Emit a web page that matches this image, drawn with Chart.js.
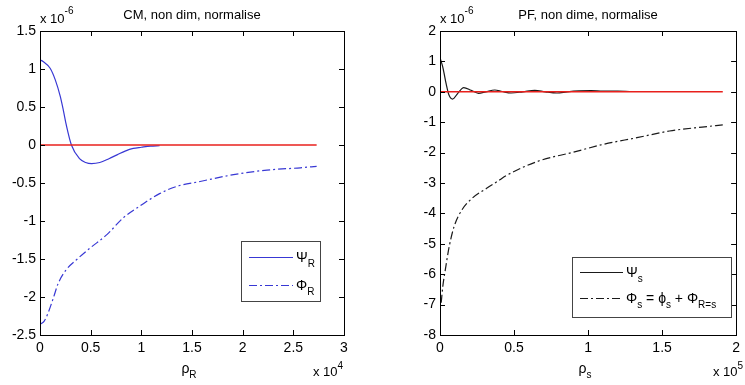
<!DOCTYPE html>
<html>
<head>
<meta charset="utf-8">
<script src="https://cdn.jsdelivr.net/npm/chart.js@4"></script>
<style>
  html, body { margin: 0; padding: 0; background: #fff; }
  #wrap { position: relative; width: 745px; height: 385px; overflow: hidden; }
  .pane { position: absolute; top: 0; height: 385px; }
  #pane-cm { left: 0; width: 372px; }
  #pane-pf { left: 400px; width: 345px; }
</style>
</head>
<body>
<div id="wrap">
  <div class="pane" id="pane-cm"><canvas id="chart-cm"></canvas></div>
  <div class="pane" id="pane-pf"><canvas id="chart-pf"></canvas></div>
</div>
<script>
// CM panel: x in units of 1e4, y in units of 1e-6
const cmPsiX = [0, 0.03, 0.1, 0.15, 0.2, 0.23, 0.26, 0.31, 0.39, 0.45, 0.51, 0.59, 0.68, 0.76, 0.84, 0.92, 1.0, 1.09, 1.18];
const cmPsiY = [1.12, 1.1, 1.01, 0.86, 0.64, 0.46, 0.26, 0.0, -0.18, -0.23, -0.245, -0.23, -0.18, -0.13, -0.08, -0.045, -0.03, -0.015, -0.01];
const cmPhiX = [0, 0.04, 0.08, 0.13, 0.18, 0.26, 0.36, 0.49, 0.66, 0.82, 1.0, 1.18, 1.36, 1.58, 1.91, 2.24, 2.57, 2.73];
const cmPhiY = [-2.36, -2.32, -2.21, -2.02, -1.82, -1.64, -1.51, -1.36, -1.18, -0.96, -0.79, -0.64, -0.54, -0.48, -0.39, -0.33, -0.30, -0.28];
const cmZeroX = [0, 2.73];
const cmZeroY = [0, 0];
const cmXTicks = [0, 0.5, 1, 1.5, 2, 2.5, 3];
const cmYTicks = [-2.5, -2, -1.5, -1, -0.5, 0, 0.5, 1, 1.5];

// PF panel: x in units of 1e5, y in units of 1e-6
const pfPsiX = [0, 0.02, 0.042, 0.06, 0.085, 0.12, 0.16, 0.21, 0.26, 0.31, 0.37, 0.42, 0.48, 0.56, 0.64, 0.71, 0.79, 0.86, 0.94, 1.02, 1.1, 1.2, 1.28];
const pfPsiY = [1.12, 0.79, 0.25, -0.1, -0.24, -0.05, 0.14, 0.05, -0.05, 0.0, 0.06, 0.01, -0.04, 0.0, 0.05, 0.0, -0.04, 0.0, 0.03, 0.04, 0.02, 0.02, 0.01];
const pfPhiX = [0.008, 0.019, 0.036, 0.063, 0.096, 0.15, 0.22, 0.32, 0.39, 0.45, 0.67, 0.89, 1.11, 1.33, 1.55, 1.77, 1.91];
const pfPhiY = [-6.94, -6.4, -5.85, -5.07, -4.42, -3.87, -3.49, -3.16, -2.94, -2.75, -2.27, -2.0, -1.72, -1.51, -1.29, -1.16, -1.09];
const pfZeroX = [0, 1.91];
const pfZeroY = [0, 0];
const pfXTicks = [0, 0.5, 1, 1.5, 2];
const pfYTicks = [-8, -7, -6, -5, -4, -3, -2, -1, 0, 1, 2];

const FONT = "'Liberation Sans', Arial, sans-serif";
const BLUE = '#3838d4';
const RED = '#e8201c';
const BLACK = '#1a1a1a';
const DASHDOT = [8, 3, 2, 3];

// per-canvas frame settings (kept outside chart options)
const frames = {};

function pts(xs, ys) {
  return xs.map((x, i) => ({ x, y: ys[i] }));
}

// draw a list of text runs: {t, size, dy}
function drawRich(ctx, parts, x, y, align) {
  let total = 0;
  parts.forEach(p => {
    ctx.font = `${p.size}px ${FONT}`;
    total += ctx.measureText(p.t).width;
  });
  let cx = align === 'center' ? x - total / 2 : (align === 'right' ? x - total : x);
  ctx.textAlign = 'left';
  ctx.textBaseline = 'alphabetic';
  parts.forEach(p => {
    ctx.font = `${p.size}px ${FONT}`;
    ctx.fillText(p.t, cx, y + (p.dy || 0));
    cx += ctx.measureText(p.t).width;
  });
}

// Matlab-like frame, inward ticks, title, labels, legend
const matlabFrame = {
  id: 'matlabFrame',
  afterDraw(chart) {
    const opts = frames[chart.canvas.id];
    const { ctx, chartArea: a, scales } = chart;
    ctx.save();
    ctx.strokeStyle = '#000';
    ctx.lineWidth = 1;
    ctx.strokeRect(Math.round(a.left) + 0.5, Math.round(a.top) + 0.5, Math.round(a.width), Math.round(a.height));

    const tl = 5;
    ctx.beginPath();
    opts.xTicks.forEach(v => {
      const px = Math.round(scales.x.getPixelForValue(v)) + 0.5;
      ctx.moveTo(px, a.bottom); ctx.lineTo(px, a.bottom - tl);
      ctx.moveTo(px, a.top); ctx.lineTo(px, a.top + tl);
    });
    opts.yTicks.forEach(v => {
      const py = Math.round(scales.y.getPixelForValue(v)) + 0.5;
      ctx.moveTo(a.left, py); ctx.lineTo(a.left + tl, py);
      ctx.moveTo(a.right, py); ctx.lineTo(a.right - tl, py);
    });
    ctx.stroke();

    ctx.fillStyle = '#000';
    const mid = (a.left + a.right) / 2;
    drawRich(ctx, [{ t: opts.title, size: 13 }], mid, 19, 'center');
    drawRich(ctx, [{ t: 'x 10', size: 13 }, { t: opts.yExp, size: 10, dy: -9 }], a.left, 23, 'left');
    drawRich(ctx, opts.xLabel, mid - 3, 373, 'center');
    drawRich(ctx, [{ t: 'x 10', size: 13 }, { t: opts.xExp, size: 10, dy: -7 }], opts.xExpX, 376, 'left');

    // legend
    const L = opts.legend;
    ctx.fillStyle = '#fff';
    ctx.fillRect(L.x, L.y, L.w, L.h);
    ctx.strokeStyle = '#444';
    ctx.strokeRect(L.x + 0.5, L.y + 0.5, L.w, L.h);
    L.items.forEach((it, i) => {
      const ly = L.y + L.first + i * L.gap;
      ctx.strokeStyle = it.stroke;
      ctx.lineWidth = 1.2;
      ctx.setLineDash(it.dash || []);
      ctx.beginPath();
      ctx.moveTo(L.x + 8, ly + 0.5);
      ctx.lineTo(L.x + 8 + L.line, ly + 0.5);
      ctx.stroke();
      ctx.setLineDash([]);
      ctx.lineWidth = 1;
      ctx.fillStyle = '#000';
      drawRich(ctx, it.text, L.x + 11 + L.line, ly + 5, 'left');
    });
    ctx.restore();
  }
};

function makeChart(id, cfg) {
  frames[id] = cfg.frame;
  return new Chart(document.getElementById(id), {
    type: 'line',
    data: { datasets: cfg.datasets },
    options: {
      responsive: true,
      maintainAspectRatio: false,
      animation: false,
      layout: { padding: cfg.padding },
      elements: { point: { radius: 0 }, line: { borderWidth: 1.2 } },
      plugins: {
        legend: { display: false },
        tooltip: { enabled: false }
      },
      scales: {
        x: {
          type: 'linear',
          min: cfg.xMin, max: cfg.xMax,
          afterBuildTicks: s => { s.ticks = cfg.frame.xTicks.map(v => ({ value: v })); },
          afterFit: s => { s.height = 50; },
          grid: { display: false, drawTicks: false },
          border: { display: false },
          ticks: { color: '#000', padding: 5, maxRotation: 0, font: { family: FONT, size: 14 }, callback: v => String(v) }
        },
        y: {
          type: 'linear',
          min: cfg.yMin, max: cfg.yMax,
          afterBuildTicks: s => { s.ticks = cfg.frame.yTicks.map(v => ({ value: v })); },
          afterFit: s => { s.width = 40; },
          grid: { display: false, drawTicks: false },
          border: { display: false },
          ticks: { color: '#000', padding: 4, font: { family: FONT, size: 14 }, callback: v => String(v) }
        }
      }
    },
    plugins: [matlabFrame]
  });
}

makeChart('chart-cm', {
  padding: { left: 0, top: 31, right: 28, bottom: 0 },
  xMin: 0, xMax: 3, yMin: -2.5, yMax: 1.5,
  datasets: [
    { label: 'zero', data: pts(cmZeroX, cmZeroY), borderColor: RED, borderWidth: 1.5 },
    { label: 'Psi_R', data: pts(cmPsiX, cmPsiY), borderColor: BLUE, cubicInterpolationMode: 'monotone' },
    { label: 'Phi_R', data: pts(cmPhiX, cmPhiY), borderColor: BLUE, borderDash: DASHDOT, cubicInterpolationMode: 'monotone' }
  ],
  frame: {
    xTicks: cmXTicks, yTicks: cmYTicks,
    title: 'CM, non dim, normalise',
    yExp: '-6', xExp: '4', xExpX: 313,
    xLabel: [{ t: 'ρ', size: 14 }, { t: 'R', size: 10, dy: 5 }],
    legend: {
      x: 241, y: 241, w: 79, h: 60, first: 16, gap: 28, line: 44,
      items: [
        { stroke: BLUE, text: [{ t: 'Ψ', size: 14 }, { t: 'R', size: 10, dy: 5 }] },
        { stroke: BLUE, dash: DASHDOT, text: [{ t: 'Φ', size: 14 }, { t: 'R', size: 10, dy: 5 }] }
      ]
    }
  }
});

makeChart('chart-pf', {
  padding: { left: 0, top: 31, right: 3, bottom: 0 },
  xMin: 0, xMax: 2, yMin: -8, yMax: 2,
  datasets: [
    { label: 'zero', data: pts(pfZeroX, pfZeroY), borderColor: RED, borderWidth: 1.5 },
    { label: 'Psi_s', data: pts(pfPsiX, pfPsiY), borderColor: BLACK, cubicInterpolationMode: 'monotone' },
    { label: 'Phi_s', data: pts(pfPhiX, pfPhiY), borderColor: BLACK, borderDash: DASHDOT, cubicInterpolationMode: 'monotone' }
  ],
  frame: {
    xTicks: pfXTicks, yTicks: pfYTicks,
    title: 'PF, non dime, normalise',
    yExp: '-6', xExp: '5', xExpX: 313,
    xLabel: [{ t: 'ρ', size: 14 }, { t: 's', size: 10, dy: 5 }],
    legend: {
      x: 172, y: 257, w: 159, h: 60, first: 15, gap: 26, line: 43,
      items: [
        { stroke: BLACK, text: [{ t: 'Ψ', size: 14 }, { t: 's', size: 10, dy: 5 }] },
        { stroke: BLACK, dash: DASHDOT, text: [
          { t: 'Φ', size: 14 }, { t: 's', size: 10, dy: 5 },
          { t: ' = ϕ', size: 14 }, { t: 's', size: 10, dy: 5 },
          { t: ' + Φ', size: 14 }, { t: 'R=s', size: 10, dy: 5 }
        ] }
      ]
    }
  }
});
</script>
</body>
</html>
